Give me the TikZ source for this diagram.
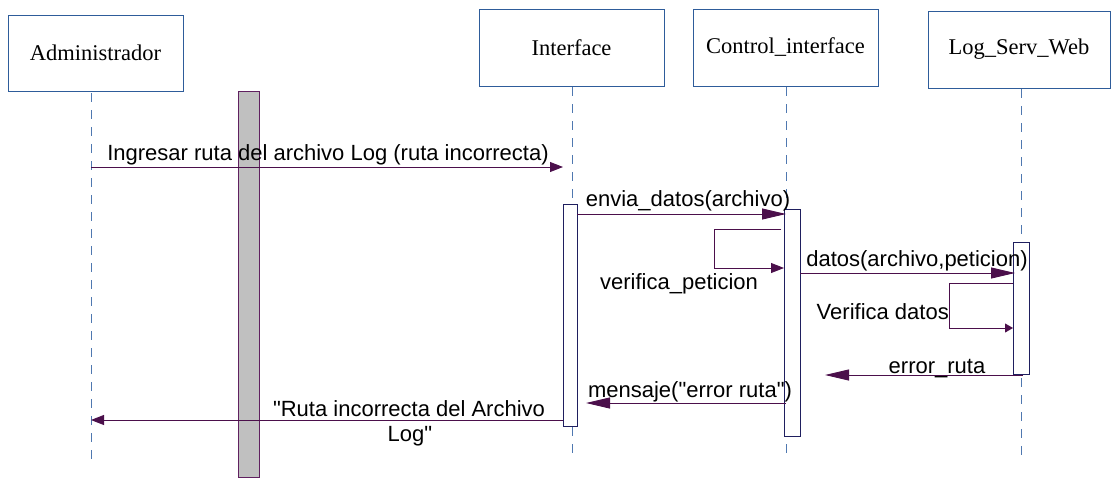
\documentclass[tikz,border=0pt]{standalone}
\usepackage{fontspec}
\setmainfont{Liberation Serif}
\newfontfamily\lblfont{Liberation Sans}
\usetikzlibrary{arrows.meta}
\definecolor{boxblue}{HTML}{2E5C9A}
\definecolor{lifeblue}{HTML}{4F78B0}
\definecolor{msgpurple}{HTML}{4B0F4B}
\definecolor{actnavy}{HTML}{1F1F5F}
\definecolor{barpurple}{HTML}{602060}
\tikzset{
  actor/.style={draw=boxblue, line width=0.9pt, fill=white, inner sep=0pt,
    font=\fontsize{22.5}{26}\selectfont},
  lifeline/.style={draw=lifeblue, line width=0.9pt, dash pattern=on 9pt off 8pt},
  actbox/.style={draw=actnavy, line width=0.9pt, fill=white, inner sep=0pt},
  msg/.style={draw=msgpurple, line width=0.9pt},
  bigtip/.style={msg, -{Triangle[length=24pt,width=11pt]}},
  smalltip/.style={msg, -{Triangle[length=13pt,width=10pt]}},
  tinytip/.style={msg, -{Triangle[length=8pt,width=9pt]}},
  lbl/.style={font=\lblfont\fontsize{22}{25}\selectfont, inner sep=0pt, anchor=base},
}
\begin{document}
\begin{tikzpicture}[x=1pt,y=-1pt]
\useasboundingbox (0,0) rectangle (1111,477);
% actors
\node[actor, minimum width=175pt, minimum height=76pt] (adm) at (95.5,53) {Administrador};
\node[actor, minimum width=185pt, minimum height=77pt] (int) at (571.5,47.5) {Interface};
\node[actor, minimum width=185pt, minimum height=77pt] (ctl) at (785.5,47.5) {Control\_interface};
\node[actor, minimum width=182pt, minimum height=77pt] (log) at (1019,49.5) {Log\_Serv\_Web};
% lifelines
\coordinate (admT) at (91,93);  \coordinate (admB) at (91,465);
\coordinate (intT) at (572,87); \coordinate (intB) at (572,458);
\coordinate (ctlT) at (786,87); \coordinate (ctlB) at (786,459);
\coordinate (logT) at (1021,89);\coordinate (logB) at (1021,458);
\draw[lifeline] (admT) -- (admB);
\draw[lifeline] (intT) -- (intB);
\draw[lifeline] (ctlT) -- (ctlB);
\draw[lifeline] (logT) -- (logB);
% gray bar
\node[draw=barpurple, line width=0.9pt, fill={rgb,255:red,192;green,192;blue,192}, inner sep=0pt,
  minimum width=21pt, minimum height=386pt] (bar) at (248.5,284) {};
% activation boxes
\node[actbox, minimum width=14pt, minimum height=222pt] (actI) at (570,315) {};
\node[actbox, minimum width=16pt, minimum height=227pt] (actC) at (792,322.5) {};
\node[actbox, minimum width=16pt, minimum height=132pt] (actL) at (1021,308) {};
% message 1
\coordinate (m1a) at (91,167); \coordinate (m1b) at (563,167);
\draw[smalltip] (m1a) -- (m1b);
\node[lbl] (l1) at (328,160) {Ingresar ruta del archivo Log (ruta incorrecta)};
% message 2
\coordinate (m2a) at (577,214); \coordinate (m2b) at (786,214);
\draw[bigtip] (m2a) -- (m2b);
\node[lbl] (l2) at (688,206) {envia\_datos(archivo)};
% self loop verifica_peticion
\coordinate (s1a) at (781,229); \coordinate (s1b) at (714,229);
\coordinate (s1c) at (714,268); \coordinate (s1d) at (784,268);
\draw[smalltip] (s1a) -- (s1b) -- (s1c) -- (s1d);
\node[lbl] (l3) at (679,289) {verifica\_peticion};
% message datos
\coordinate (m3a) at (800,273); \coordinate (m3b) at (1015,273);
\draw[bigtip] (m3a) -- (m3b);
\node[lbl] (l4) at (917,266) {datos(archivo,peticion)};
% self loop Verifica datos
\coordinate (s2a) at (1013,283); \coordinate (s2b) at (949,283);
\coordinate (s2c) at (949,328); \coordinate (s2d) at (1013,328);
\draw[tinytip] (s2a) -- (s2b) -- (s2c) -- (s2d);
\node[lbl, anchor=base east] (l5) at (949,319) {Verifica datos};
% error_ruta
\coordinate (m4a) at (1023,375); \coordinate (m4b) at (825,375);
\draw[bigtip] (m4a) -- (m4b);
\node[lbl] (l6) at (937,373) {error\_ruta};
% mensaje
\coordinate (m5a) at (786,403); \coordinate (m5b) at (586,403);
\draw[bigtip] (m5a) -- (m5b);
\node[lbl] (l7) at (690,397) {mensaje("error ruta")};
% Ruta incorrecta
\coordinate (m6a) at (563,420); \coordinate (m6b) at (91,420);
\draw[smalltip] (m6a) -- (m6b);
\node[lbl] (l8) at (409,416) {"Ruta incorrecta del Archivo};
\node[lbl] (l9) at (410,441) {Log"};
\end{tikzpicture}
\end{document}
